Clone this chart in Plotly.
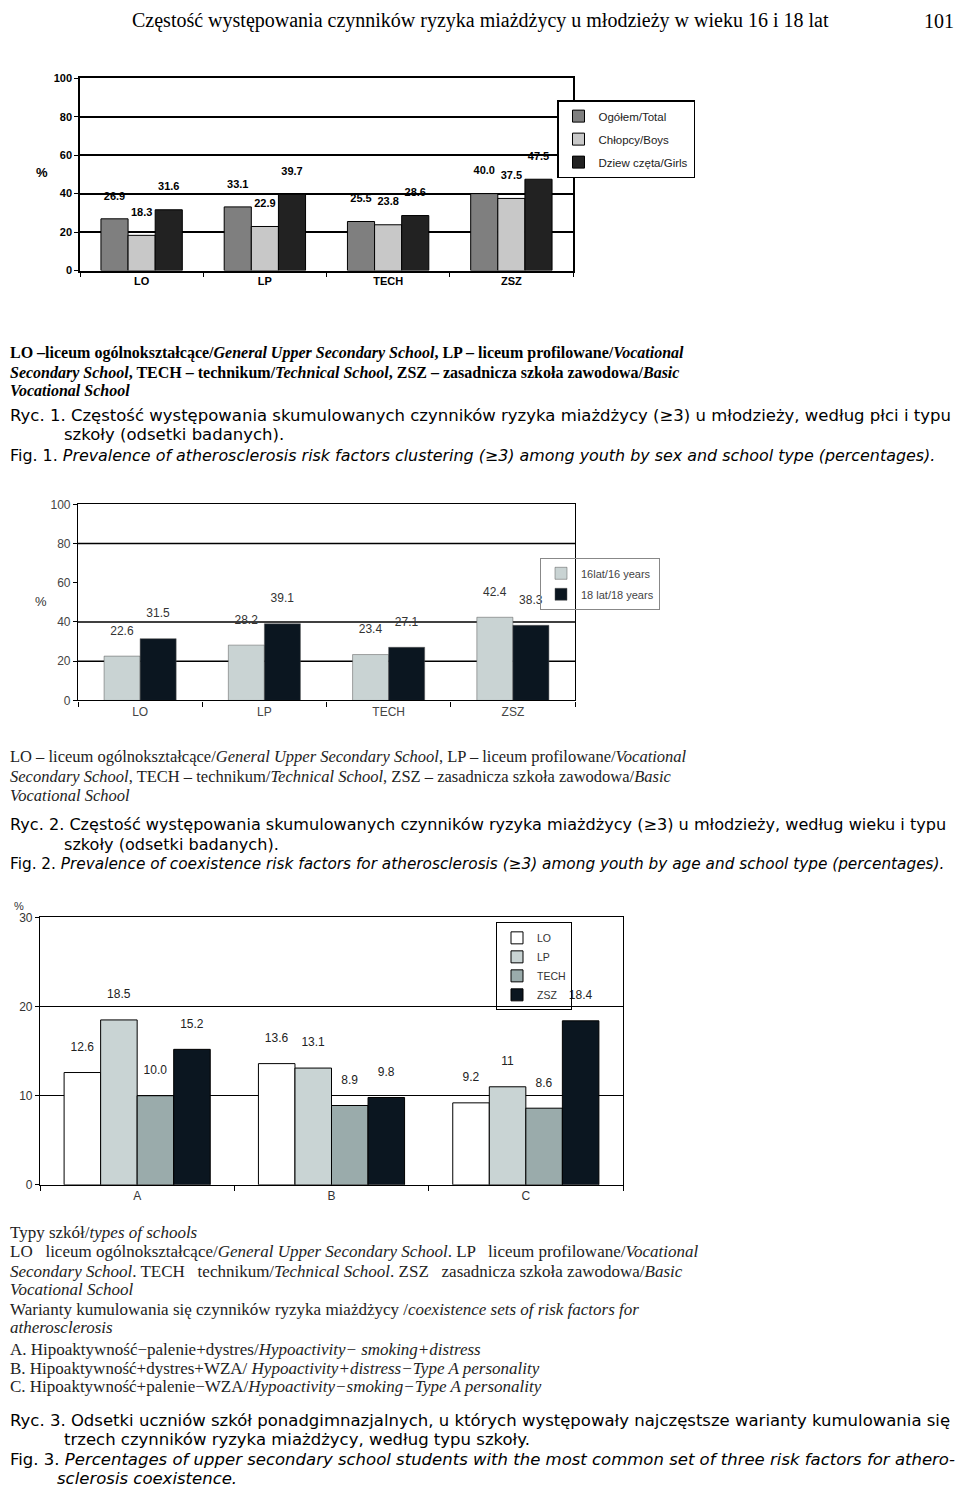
import plotly.graph_objects as go

W, H = 960, 1495


def px(x):
    return x / W


def py(y):
    return 1 - y / H


# ---------------- data ----------------
schools = ["LO", "LP", "TECH", "ZSZ"]
total = [26.9, 33.1, 25.5, 40.0]
boys = [18.3, 22.9, 23.8, 37.5]
girls = [31.6, 39.7, 28.6, 47.5]

age16 = [22.6, 28.2, 23.4, 42.4]
age18 = [31.5, 39.1, 27.1, 38.3]

variants = ["A", "B", "C"]
lo_v = [12.6, 13.6, 9.2]
lp_v = [18.5, 13.1, 11.0]
tech_v = [10.0, 8.9, 8.6]
zsz_v = [15.2, 9.8, 18.4]
lo_lbl = ["12.6", "13.6", "9.2"]
lp_lbl = ["18.5", "13.1", "11"]
tech_lbl = ["10.0", "8.9", "8.6"]
zsz_lbl = ["15.2", "9.8", "18.4"]

fig = go.Figure()

# ---------------- chart 1 ----------------
w1 = 0.22
for i, (name, vals, col) in enumerate([
        ("Ogółem/Total", total, "#7f7f7f"),
        ("Chłopcy/Boys", boys, "#c8c8c8"),
        ("Dziew częta/Girls", girls, "#222222")]):
    fig.add_trace(go.Bar(
        x=schools, y=vals, name=name, xaxis="x", yaxis="y", legend="legend",
        legendgroup=f"g1{i}",
        width=w1, offset=(i - 1.5) * w1,
        marker=dict(color=col, line=dict(color="black", width=1)),
        text=[f"<b>{v:.1f}</b><br>&nbsp;" for v in vals],
        textposition="outside", textfont=dict(family="Liberation Sans", size=11, color="black"),
        cliponaxis=False))

# ---------------- chart 2 ----------------
w2 = 0.29
for i, (name, vals, col) in enumerate([
        ("16lat/16 years", age16, "#c9d3d3"),
        ("18 lat/18 years", age18, "#0b1620")]):
    fig.add_trace(go.Bar(
        x=schools, y=vals, name=name, xaxis="x2", yaxis="y2", legend="legend2",
        legendgroup=f"g2{i}",
        width=w2, offset=(i - 1) * w2,
        marker=dict(color=col, line=dict(color="#555555", width=0.5)),
        text=[f"{v:.1f}<br>&nbsp;" for v in vals],
        textposition="outside", textfont=dict(family="Liberation Sans", size=12, color="#333333"),
        cliponaxis=False))

# ---------------- chart 3 ----------------
w3 = 0.188
for i, (name, vals, lbl, col) in enumerate([
        ("LO", lo_v, lo_lbl, "#ffffff"),
        ("LP", lp_v, lp_lbl, "#c9d4d4"),
        ("TECH", tech_v, tech_lbl, "#9aabab"),
        ("ZSZ", zsz_v, zsz_lbl, "#0b1620")]):
    fig.add_trace(go.Bar(
        x=variants, y=vals, name=name, xaxis="x3", yaxis="y3", legend="legend3",
        width=w3, offset=(i - 2) * w3,
        marker=dict(color=col, line=dict(color="black", width=1)),
        text=[f"{t}<br>&nbsp;" for t in lbl],
        textposition="outside", textfont=dict(family="Liberation Sans", size=12, color="#222222"),
        cliponaxis=False))

axis_common = dict(showline=True, linecolor="black", mirror=True, zeroline=False)

fig.update_layout(
    width=W, height=H, margin=dict(l=0, r=0, t=0, b=0),
    paper_bgcolor="white", plot_bgcolor="white",
    barmode="overlay", showlegend=True,
    xaxis=dict(domain=[px(80), px(573)], anchor="y", type="category",
               linewidth=1.5, ticks="outside", tickson="boundaries", ticklen=5,
               tickcolor="black", showgrid=False,
               tickfont=dict(family="Liberation Sans", size=11, color="black"),
               tickprefix="<b>", ticksuffix="</b>", **axis_common),
    yaxis=dict(domain=[py(266), py(72)], anchor="x", range=[0, 100], dtick=20,
               linewidth=1.5, ticks="outside", ticklen=4, tickcolor="black",
               showgrid=True, gridcolor="black", gridwidth=1.5,
               tickfont=dict(family="Liberation Sans", size=11, color="black"),
               tickprefix="<b>", ticksuffix="</b>", **axis_common),
    xaxis2=dict(domain=[px(78), px(575)], anchor="y2", type="category",
                linewidth=1.2, ticks="outside", tickson="boundaries", ticklen=5,
                tickcolor="black", showgrid=False,
                tickfont=dict(family="Liberation Sans", size=12, color="#444444"),
                **axis_common),
    yaxis2=dict(domain=[py(700), py(502)], anchor="x2", range=[0, 100], dtick=20,
                linewidth=1.2, ticks="outside", ticklen=4, tickcolor="black",
                showgrid=False,
                tickfont=dict(family="Liberation Sans", size=12, color="#444444"),
                **axis_common),
    xaxis3=dict(domain=[px(40), px(623)], anchor="y3", type="category",
                linewidth=1.2, ticks="outside", tickson="boundaries", ticklen=5,
                tickcolor="black", showgrid=False,
                tickfont=dict(family="Liberation Sans", size=12, color="#333333"),
                **axis_common),
    yaxis3=dict(domain=[py(1189), py(919)], anchor="x3", range=[0, 30], dtick=10,
                linewidth=1.2, ticks="outside", ticklen=4, tickcolor="black",
                showgrid=True, gridcolor="black", gridwidth=1.2,
                tickfont=dict(family="Liberation Sans", size=12, color="#333333"),
                **axis_common),
    legend=dict(x=px(557), y=py(94), xanchor="left", yanchor="top",
                bordercolor="black", borderwidth=1.5, bgcolor="white",
                font=dict(family="Liberation Sans", size=11.5, color="#222222"),
                tracegroupgap=4, itemwidth=30),
    legend2=dict(x=px(540), y=py(556), xanchor="left", yanchor="top",
                 bordercolor="#888888", borderwidth=1, bgcolor="rgba(255,255,255,0)",
                 font=dict(family="Liberation Sans", size=11, color="#444444"),
                 tracegroupgap=2, itemwidth=30),
    legend3=dict(x=px(496), y=py(924), xanchor="left", yanchor="top",
                 bordercolor="black", borderwidth=1, bgcolor="rgba(255,255,255,0)",
                 font=dict(family="Liberation Sans", size=10.5, color="#333333"),
                 tracegroupgap=0, itemwidth=30),
)

# chart 2 gridlines (the 60 line is absent in the original)
grid2 = [20, 40, 80]
for g in grid2:
    fig.add_shape(type="line", xref="x2 domain", yref="y2", x0=0, x1=1, y0=g, y1=g,
                  line=dict(color="black", width=1.5), layer="below")

annots = []


def txt(x, y, s, size, family, color="black", anchor="left"):
    annots.append(dict(x=px(x), y=py(y), xref="paper", yref="paper", text=s,
                       showarrow=False, xanchor=anchor, yanchor="middle",
                       font=dict(family=family, size=size, color=color)))


# header
txt(480, 14, "Częstość występowania czynników ryzyka miażdżycy u młodzieży w wieku 16 i 18 lat",
    20, "Liberation Serif", anchor="center")
txt(956, 14, "101", 20, "Liberation Serif", anchor="right")

# % labels
txt(42, 167, "<b>%</b>", 13, "Liberation Sans", anchor="center")
txt(41, 600, "%", 13, "Liberation Sans", color="#333333", anchor="center")
txt(19, 907, "%", 11, "Liberation Sans", color="#333333", anchor="center")

serif = "Liberation Serif"
# footnote 1 (bold)
f1 = 16
txt(8, 349, "<b>LO –liceum ogólnokształcące/<i>General Upper Secondary School</i>, LP – liceum profilowane/<i>Vocational</i></b>", f1, serif)
txt(8, 369, "<b><i>Secondary School</i>, TECH – technikum/<i>Technical School</i>, ZSZ – zasadnicza szkoła zawodowa/<i>Basic</i></b>", f1, serif)
txt(8, 387, "<b><i>Vocational School</i></b>", f1, serif)

cap = "DejaVu Sans"
txt(8, 412, "Ryc. 1. Częstość występowania skumulowanych czynników ryzyka miażdżycy (≥3) u młodzieży, według płci i typu", 16.5, cap)
txt(62, 432, "szkoły (odsetki badanych).", 16.5, cap)
txt(8, 453, "Fig. 1. <i>Prevalence of atherosclerosis risk factors clustering (≥3) among youth by sex and school type (percentages).</i>", 15.9, cap)

# footnote 2
f2 = 16.5
txt(8, 757, "LO – liceum ogólnokształcące/<i>General Upper Secondary School</i>, LP – liceum profilowane/<i>Vocational</i>", f2, serif, color="#222222")
txt(8, 777, "<i>Secondary School</i>, TECH – technikum/<i>Technical School</i>, ZSZ – zasadnicza szkoła zawodowa/<i>Basic</i>", f2, serif, color="#222222")
txt(8, 796, "<i>Vocational School</i>", f2, serif, color="#222222")

txt(8, 825, "Ryc. 2. Częstość występowania skumulowanych czynników ryzyka miażdżycy (≥3) u młodzieży, według wieku i typu", 16.1, cap)
txt(62, 845, "szkoły (odsetki badanych).", 16.1, cap)
txt(8, 865, "Fig. 2. <i>Prevalence of coexistence risk factors for atherosclerosis (≥3) among youth by age and school type (percentages).</i>", 15.3, cap)

# footnote 3
f3 = 17
c3 = "#222222"
txt(8, 1237, "Typy szkół/<i>types of schools</i>", f3, serif, c3)
txt(8, 1256, "LO   liceum ogólnokształcące/<i>General Upper Secondary School</i>. LP   liceum profilowane/<i>Vocational</i>", f3, serif, c3)
txt(8, 1276, "<i>Secondary School</i>. TECH   technikum/<i>Technical School</i>. ZSZ   zasadnicza szkoła zawodowa/<i>Basic</i>", f3, serif, c3)
txt(8, 1295, "<i>Vocational School</i>", f3, serif, c3)
txt(8, 1315, "Warianty kumulowania się czynników ryzyka miażdżycy /<i>coexistence sets of risk factors for</i>", f3, serif, c3)
txt(8, 1333, "<i>atherosclerosis</i>", f3, serif, c3)
txt(8, 1355, "A. Hipoaktywność−palenie+dystres/<i>Hypoactivity− smoking+distress</i>", f3, serif, c3)
txt(8, 1374, "B. Hipoaktywność+dystres+WZA/<i> Hypoactivity+distress−Type A personality</i>", f3, serif, c3)
txt(8, 1393, "C. Hipoaktywność+palenie−WZA/<i>Hypoactivity−smoking−Type A personality</i>", f3, serif, c3)

txt(8, 1427, "Ryc. 3. Odsetki uczniów szkół ponadgimnazjalnych, u których występowały najczęstsze warianty kumulowania się", 16.5, cap)
txt(62, 1446, "trzech czynników ryzyka miażdżycy, według typu szkoły.", 16.5, cap)
txt(8, 1466, "Fig. 3. <i>Percentages of upper secondary school students with the most common set of three risk factors for athero-</i>", 16.5, cap)
txt(55, 1485, "<i>sclerosis coexistence.</i>", 16.5, cap)

fig.update_layout(annotations=annots)

post = (
    "var s=document.createElement('style');"
    "s.textContent='html,body{margin:0!important;padding:0!important;overflow:hidden!important;"
    "width:960px;height:1495px;} body>div{line-height:0;font-size:0;}';"
    "document.head.appendChild(s);"
)

fig.write_html("out.html", config={"displayModeBar": False}, post_script=post)
